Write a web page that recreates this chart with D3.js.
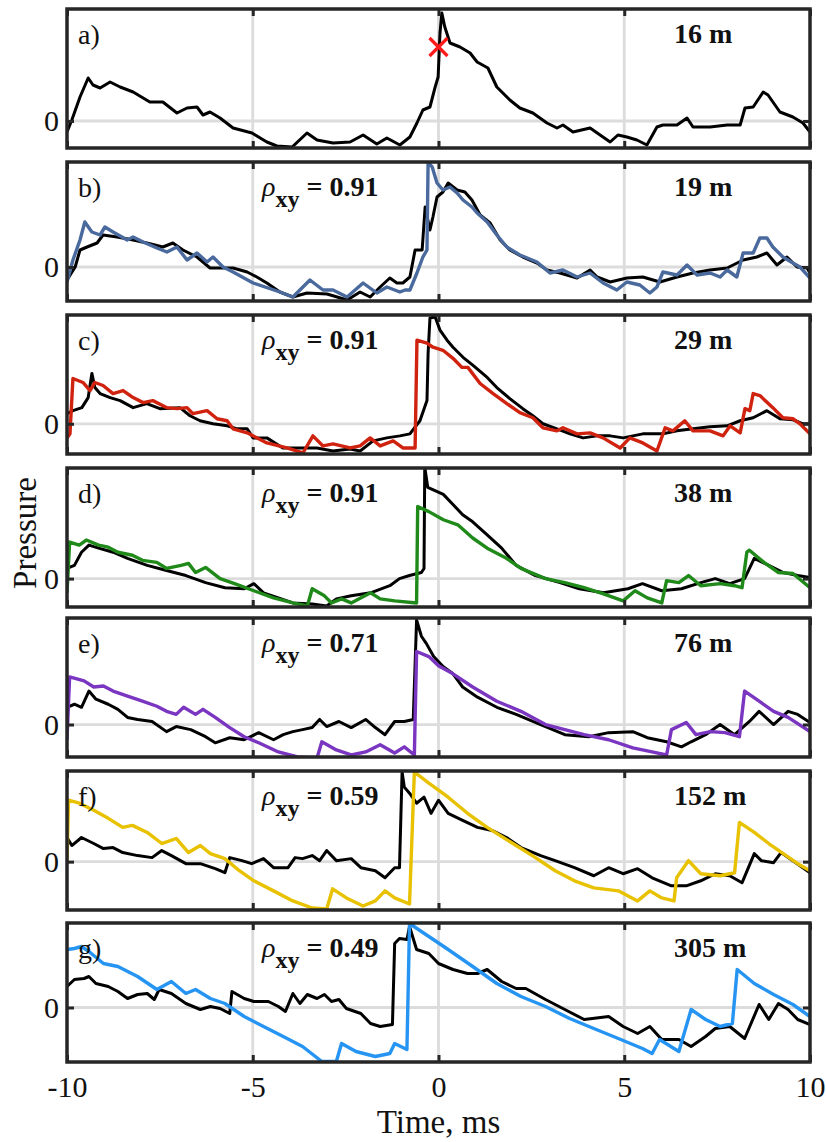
<!DOCTYPE html>
<html>
<head>
<meta charset="utf-8">
<script src="https://cdn.jsdelivr.net/npm/d3@7"></script>
<style>
  body { margin: 0; background: #fff; }
</style>
</head>
<body>
<div id="chart"></div>
<script>
// panel annotations
const panelLabels = ["a)", "b)", "c)", "d)", "e)", "f)", "g)"];
const distances = ["16 m", "19 m", "29 m", "38 m", "76 m", "152 m", "305 m"];
const rhos = [null, "0.91", "0.91", "0.91", "0.71", "0.59", "0.49"];
const colors = ["#000", "#4a6a9e", "#d0230f", "#1f8a1a", "#7a36c0", "#e8c100", "#2594f2"];
const yDomains = [[-0.27, 1.12], [-0.34, 1.05], [-0.30, 1.08], [-0.28, 1.09], [-0.32, 1.05], [-0.48, 0.90], [-0.545, 0.845]];
const xTicks = [-10, -5, 0, 5, 10];
const peakMarker = [0, 0.74];

// measured waveform (black) for every panel, time in ms, pressure normalized
const measuredA = [[-10,-0.11],[-9.87,0.01],[-9.65,0.24],[-9.43,0.43],[-9.30,0.36],[-9.11,0.33],[-8.84,0.39],[-8.57,0.34],[-8.22,0.29],[-7.77,0.19],[-7.42,0.19],[-7.04,0.08],[-6.77,0.13],[-6.50,0.14],[-6.34,0.06],[-6.15,0.09],[-5.88,0.03],[-5.53,-0.07],[-5.02,-0.12],[-4.62,-0.21],[-4.35,-0.25],[-3.94,-0.26],[-3.54,-0.12],[-3.27,-0.19],[-2.84,-0.22],[-2.38,-0.21],[-2.03,-0.14],[-1.66,-0.23],[-1.39,-0.17],[-1.04,-0.24],[-0.77,-0.16],[-0.58,-0.02],[-0.42,0.11],[-0.23,0.14],[-0.09,0.34],[-0.01,0.44],[0.04,0.88],[0.09,1.08],[0.17,0.94],[0.31,0.78],[0.58,0.74],[0.85,0.68],[1.04,0.59],[1.33,0.53],[1.57,0.34],[1.92,0.21],[2.19,0.13],[2.54,0.08],[2.92,-0.02],[3.19,-0.07],[3.35,-0.04],[3.62,-0.11],[4.08,-0.07],[4.62,-0.21],[4.83,-0.14],[5.07,-0.16],[5.34,-0.19],[5.61,-0.24],[5.88,-0.06],[6.04,-0.04],[6.42,-0.04],[6.69,0.03],[6.85,-0.06],[7.31,-0.06],[7.77,-0.04],[8.12,-0.04],[8.25,0.13],[8.47,0.14],[8.74,0.29],[8.87,0.26],[9.19,0.09],[9.54,0.04],[9.81,-0.02],[10,-0.11]];
const measuredB = [[-10,-0.13],[-9.78,0.00],[-9.65,0.17],[-9.46,0.20],[-9.19,0.24],[-9.03,0.32],[-8.65,0.30],[-8.22,0.27],[-7.85,0.24],[-7.42,0.20],[-7.15,0.24],[-6.88,0.17],[-6.50,0.10],[-6.15,-0.01],[-5.53,-0.01],[-5.15,-0.05],[-4.89,-0.10],[-4.62,-0.16],[-4.27,-0.25],[-3.92,-0.30],[-3.54,-0.26],[-3.00,-0.27],[-2.46,-0.33],[-2.11,-0.25],[-1.84,-0.30],[-1.57,-0.20],[-1.31,-0.11],[-1.12,-0.16],[-0.96,-0.16],[-0.77,-0.10],[-0.63,0.17],[-0.44,0.17],[-0.36,0.60],[-0.23,0.37],[-0.15,0.50],[-0.04,0.70],[0.12,0.75],[0.26,0.84],[0.50,0.77],[0.71,0.75],[0.90,0.67],[1.12,0.52],[1.39,0.44],[1.66,0.27],[1.92,0.17],[2.27,0.10],[2.65,0.04],[2.92,-0.03],[3.27,-0.06],[3.73,-0.11],[4.08,-0.03],[4.27,-0.10],[4.62,-0.15],[5.07,-0.11],[5.50,-0.10],[5.96,-0.15],[6.42,-0.10],[6.85,-0.06],[7.31,-0.03],[7.77,-0.01],[8.20,0.07],[8.57,0.10],[8.84,0.14],[9.11,0.02],[9.38,0.10],[9.65,0.00],[9.92,-0.01],[10,-0.06]];
const measuredC = [[-10,0.10],[-9.84,0.13],[-9.60,0.16],[-9.43,0.26],[-9.33,0.50],[-9.25,0.36],[-9.11,0.30],[-8.84,0.26],[-8.57,0.23],[-8.22,0.16],[-7.85,0.20],[-7.50,0.15],[-6.96,0.16],[-6.69,0.08],[-6.42,0.03],[-6.07,0.00],[-5.69,-0.02],[-5.42,-0.05],[-5.15,-0.05],[-4.99,-0.14],[-4.62,-0.14],[-4.19,-0.24],[-3.73,-0.24],[-3.27,-0.24],[-2.84,-0.27],[-2.38,-0.25],[-2.11,-0.27],[-1.76,-0.17],[-1.39,-0.14],[-1.04,-0.12],[-0.77,-0.10],[-0.50,0.03],[-0.31,0.23],[-0.28,0.70],[-0.23,1.05],[-0.09,1.06],[0.04,0.93],[0.23,0.83],[0.39,0.76],[0.66,0.66],[0.93,0.58],[1.31,0.46],[1.57,0.36],[1.92,0.25],[2.27,0.15],[2.54,0.08],[2.81,0.00],[3.19,-0.05],[3.54,-0.10],[3.89,-0.14],[4.27,-0.12],[4.62,-0.12],[4.97,-0.14],[5.50,-0.10],[6.04,-0.10],[6.42,-0.07],[6.85,-0.05],[7.31,-0.03],[7.77,-0.02],[8.12,0.03],[8.47,0.06],[8.84,0.13],[9.19,0.05],[9.54,0.04],[9.81,0.00],[10,0.00]];
const measuredD = [[-10,0.10],[-9.80,0.13],[-9.61,0.26],[-9.41,0.33],[-9.15,0.30],[-8.76,0.26],[-8.37,0.20],[-7.84,0.13],[-7.32,0.08],[-6.80,0.03],[-6.27,-0.04],[-5.75,-0.09],[-5.23,-0.10],[-4.97,-0.05],[-4.71,-0.14],[-4.31,-0.19],[-3.92,-0.24],[-3.40,-0.25],[-3.01,-0.27],[-2.75,-0.20],[-2.35,-0.17],[-1.83,-0.14],[-1.31,-0.07],[-1.05,0.00],[-0.78,0.03],[-0.46,0.06],[-0.39,0.10],[-0.37,1.10],[-0.29,0.90],[0.13,0.83],[0.39,0.73],[0.65,0.63],[0.92,0.56],[1.31,0.43],[1.70,0.30],[2.09,0.13],[2.61,0.03],[3.27,-0.04],[3.79,-0.10],[4.44,-0.14],[5.10,-0.10],[5.49,-0.05],[6.01,-0.12],[6.54,-0.10],[7.06,-0.04],[7.45,0.00],[7.84,-0.05],[8.24,0.00],[8.50,0.20],[8.89,0.13],[9.28,0.06],[9.67,0.03],[10,0.01]];
const measuredE = [[-10,0.17],[-9.80,0.20],[-9.61,0.17],[-9.41,0.33],[-9.22,0.25],[-8.89,0.20],[-8.63,0.15],[-8.37,0.07],[-8.10,0.05],[-7.71,0.03],[-7.32,-0.07],[-7.06,-0.02],[-6.67,-0.05],[-6.27,-0.12],[-6.01,-0.18],[-5.62,-0.13],[-5.23,-0.15],[-4.84,-0.08],[-4.44,-0.15],[-4.18,-0.10],[-3.92,-0.07],[-3.66,-0.05],[-3.40,-0.03],[-3.20,0.05],[-3.01,-0.02],[-2.68,0.03],[-2.35,-0.03],[-1.96,0.05],[-1.70,-0.03],[-1.44,-0.10],[-1.18,0.03],[-0.92,0.03],[-0.68,0.05],[-0.59,1.03],[-0.46,0.87],[-0.33,0.80],[-0.13,0.67],[0.13,0.57],[0.39,0.50],[0.65,0.37],[1.05,0.27],[1.57,0.17],[2.09,0.10],[2.75,0.00],[3.40,-0.10],[4.05,-0.12],[4.58,-0.08],[5.23,-0.07],[5.62,-0.13],[6.14,-0.17],[6.54,-0.22],[6.80,-0.17],[7.19,-0.10],[7.58,0.00],[7.97,-0.10],[8.37,0.03],[8.63,0.13],[9.02,0.00],[9.41,0.13],[9.67,0.10],[10,0.02]];
const measuredF = [[-10,0.24],[-9.87,0.16],[-9.61,0.24],[-9.28,0.18],[-9.02,0.13],[-8.76,0.14],[-8.50,0.09],[-8.10,0.06],[-7.71,0.04],[-7.45,0.11],[-7.19,0.06],[-6.80,-0.02],[-6.41,-0.02],[-6.01,-0.07],[-5.75,-0.11],[-5.62,0.04],[-5.29,0.01],[-5.03,-0.02],[-4.71,0.03],[-4.44,-0.06],[-4.05,-0.06],[-3.86,0.04],[-3.66,0.03],[-3.40,0.06],[-3.20,0.01],[-3.01,0.11],[-2.75,0.01],[-2.35,0.03],[-2.09,-0.06],[-1.70,-0.09],[-1.44,-0.16],[-1.18,-0.06],[-1.05,-0.06],[-0.98,0.89],[-0.92,0.74],[-0.78,0.68],[-0.59,0.58],[-0.39,0.64],[-0.20,0.48],[0.00,0.61],[0.26,0.48],[0.65,0.41],[1.05,0.34],[1.44,0.31],[1.83,0.24],[2.22,0.14],[2.75,0.06],[3.14,0.01],[3.66,-0.06],[4.18,-0.14],[4.58,-0.06],[4.97,-0.12],[5.36,-0.07],[5.75,-0.16],[6.27,-0.24],[6.67,-0.24],[7.06,-0.19],[7.45,-0.12],[7.84,-0.14],[8.17,-0.21],[8.50,0.08],[8.69,0.01],[9.02,-0.01],[9.22,0.09],[9.54,0.01],[10,-0.11]];
const measuredG = [[-10,0.21],[-9.80,0.28],[-9.54,0.29],[-9.41,0.31],[-9.22,0.24],[-8.89,0.21],[-8.63,0.16],[-8.37,0.09],[-8.10,0.13],[-7.84,0.14],[-7.65,0.08],[-7.52,0.18],[-7.19,0.14],[-6.80,0.04],[-6.41,-0.02],[-6.14,0.01],[-5.88,-0.01],[-5.62,-0.06],[-5.56,0.16],[-5.23,0.09],[-4.97,0.06],[-4.58,0.06],[-4.31,0.01],[-4.12,-0.04],[-3.92,0.14],[-3.73,0.04],[-3.53,0.13],[-3.27,0.09],[-3.07,0.13],[-2.88,0.06],[-2.68,0.08],[-2.48,-0.01],[-2.09,-0.06],[-1.83,-0.16],[-1.57,-0.19],[-1.24,-0.17],[-1.18,0.64],[-1.05,0.69],[-0.85,0.68],[-0.78,0.81],[-0.59,0.58],[-0.26,0.54],[0.00,0.44],[0.39,0.38],[0.78,0.34],[1.05,0.34],[1.31,0.38],[1.70,0.26],[2.09,0.19],[2.35,0.19],[2.88,0.08],[3.40,-0.02],[3.92,-0.12],[4.58,-0.09],[4.97,-0.19],[5.36,-0.26],[5.69,-0.19],[6.01,-0.32],[6.47,-0.32],[6.80,-0.39],[7.19,-0.29],[7.45,-0.21],[7.84,-0.19],[8.24,-0.31],[8.63,0.03],[8.89,-0.12],[9.15,0.04],[9.41,-0.02],[9.67,-0.12],[10,-0.17]];

// modelled waveform (coloured) at each distance
const modelB = [[-10,-0.15],[-9.84,0.07],[-9.65,0.27],[-9.52,0.45],[-9.33,0.35],[-9.11,0.32],[-8.98,0.40],[-8.76,0.35],[-8.38,0.27],[-8.22,0.30],[-7.95,0.25],[-7.58,0.19],[-7.31,0.15],[-7.04,0.20],[-6.77,0.07],[-6.50,0.14],[-6.23,0.05],[-6.07,0.10],[-5.80,0.00],[-5.53,-0.05],[-4.99,-0.16],[-4.27,-0.25],[-3.92,-0.30],[-3.46,-0.13],[-3.11,-0.23],[-2.84,-0.23],[-2.46,-0.30],[-2.03,-0.16],[-1.66,-0.26],[-1.39,-0.20],[-1.04,-0.25],[-0.90,-0.23],[-0.77,-0.23],[-0.58,-0.06],[-0.42,0.10],[-0.31,0.17],[-0.28,1.05],[-0.17,1.00],[-0.04,0.84],[0.12,0.77],[0.31,0.80],[0.50,0.74],[0.66,0.67],[0.90,0.60],[1.04,0.54],[1.31,0.45],[1.57,0.32],[1.84,0.20],[2.19,0.12],[2.65,0.05],[3.00,-0.06],[3.35,-0.03],[3.73,-0.10],[4.08,-0.06],[4.43,-0.16],[4.80,-0.23],[5.07,-0.15],[5.42,-0.18],[5.69,-0.26],[5.88,-0.20],[6.04,-0.05],[6.42,-0.08],[6.69,0.02],[6.96,-0.08],[7.31,-0.06],[7.58,-0.10],[7.77,-0.03],[8.03,-0.10],[8.20,0.14],[8.47,0.14],[8.65,0.29],[8.84,0.29],[9.00,0.20],[9.27,0.10],[9.54,0.04],[9.73,0.00],[10,-0.11]];
const modelC = [[-10,-0.14],[-9.92,-0.10],[-9.84,0.45],[-9.57,0.41],[-9.38,0.33],[-9.25,0.41],[-9.03,0.38],[-8.76,0.30],[-8.49,0.33],[-8.22,0.26],[-7.95,0.21],[-7.69,0.23],[-7.31,0.16],[-7.04,0.15],[-6.77,0.16],[-6.61,0.10],[-6.23,0.13],[-5.96,0.05],[-5.69,0.03],[-5.53,-0.05],[-5.15,-0.09],[-4.62,-0.19],[-4.08,-0.24],[-3.65,-0.29],[-3.38,-0.12],[-3.11,-0.22],[-2.84,-0.20],[-2.38,-0.24],[-2.11,-0.22],[-1.84,-0.14],[-1.57,-0.22],[-1.22,-0.17],[-0.96,-0.24],[-0.63,-0.24],[-0.58,0.83],[-0.31,0.80],[-0.15,0.76],[0.12,0.73],[0.39,0.65],[0.63,0.56],[0.79,0.56],[1.12,0.40],[1.47,0.30],[1.84,0.20],[2.19,0.11],[2.54,0.06],[2.81,-0.04],[3.19,-0.07],[3.35,-0.04],[3.73,-0.10],[4.08,-0.09],[4.43,-0.14],[4.89,-0.24],[5.15,-0.14],[5.50,-0.19],[5.88,-0.27],[6.10,-0.04],[6.31,-0.07],[6.63,0.03],[6.85,-0.07],[7.31,-0.07],[7.66,-0.12],[7.85,-0.02],[8.12,-0.09],[8.25,0.15],[8.38,0.13],[8.47,0.30],[8.65,0.28],[9.00,0.16],[9.27,0.06],[9.54,0.05],[9.73,0.00],[10,-0.10]];
const modelD = [[-10,-0.14],[-9.93,0.36],[-9.67,0.33],[-9.48,0.38],[-9.15,0.33],[-8.89,0.31],[-8.63,0.26],[-8.24,0.23],[-7.97,0.18],[-7.58,0.16],[-7.32,0.10],[-6.93,0.13],[-6.73,0.15],[-6.54,0.06],[-6.27,0.11],[-5.88,0.00],[-5.49,-0.05],[-4.97,-0.12],[-4.44,-0.19],[-3.92,-0.24],[-3.53,-0.27],[-3.40,-0.10],[-3.07,-0.17],[-2.88,-0.24],[-2.61,-0.20],[-2.35,-0.24],[-1.83,-0.14],[-1.57,-0.20],[-1.18,-0.22],[-0.59,-0.24],[-0.56,0.71],[-0.26,0.66],[0.13,0.58],[0.52,0.53],[0.92,0.40],[1.31,0.30],[1.83,0.20],[2.22,0.10],[2.88,0.00],[3.40,-0.04],[3.92,-0.09],[4.44,-0.15],[4.97,-0.22],[5.29,-0.12],[5.62,-0.19],[6.01,-0.24],[6.14,-0.02],[6.47,-0.04],[6.73,0.03],[7.06,-0.07],[7.58,-0.05],[7.97,-0.07],[8.17,-0.09],[8.30,0.26],[8.37,0.28],[8.76,0.16],[9.15,0.06],[9.54,0.05],[10,-0.09]];
const modelE = [[-10,-0.15],[-9.93,0.47],[-9.54,0.43],[-9.28,0.37],[-9.02,0.38],[-8.76,0.33],[-8.37,0.28],[-7.97,0.23],[-7.58,0.18],[-7.32,0.13],[-7.06,0.10],[-6.86,0.17],[-6.54,0.10],[-6.34,0.15],[-6.01,0.07],[-5.62,-0.03],[-5.23,-0.12],[-4.84,-0.18],[-4.31,-0.27],[-3.79,-0.32],[-3.27,-0.33],[-3.14,-0.17],[-2.75,-0.25],[-2.35,-0.30],[-1.96,-0.27],[-1.57,-0.20],[-1.18,-0.28],[-0.92,-0.22],[-0.65,-0.30],[-0.59,0.72],[-0.26,0.67],[0.00,0.58],[0.39,0.50],[0.92,0.37],[1.57,0.23],[2.22,0.13],[2.88,0.00],[3.40,-0.05],[3.92,-0.10],[4.58,-0.15],[5.23,-0.23],[5.75,-0.27],[6.14,-0.30],[6.27,-0.05],[6.67,0.02],[6.93,-0.10],[7.32,-0.07],[7.71,-0.08],[8.10,-0.12],[8.24,0.33],[8.63,0.23],[9.02,0.13],[9.41,0.07],[10,-0.07]];
const modelF = [[-10,-0.02],[-9.96,0.61],[-9.67,0.58],[-9.28,0.51],[-8.89,0.43],[-8.50,0.34],[-8.24,0.36],[-7.84,0.29],[-7.45,0.18],[-7.06,0.23],[-6.73,0.09],[-6.41,0.16],[-6.14,0.08],[-5.75,0.03],[-5.36,-0.09],[-4.97,-0.19],[-4.44,-0.29],[-3.92,-0.39],[-3.40,-0.46],[-3.01,-0.47],[-2.85,-0.27],[-2.48,-0.36],[-2.03,-0.44],[-1.70,-0.39],[-1.44,-0.29],[-1.18,-0.36],[-0.78,-0.42],[-0.65,0.89],[-0.26,0.78],[0.26,0.64],[0.78,0.48],[1.31,0.34],[1.96,0.19],[2.61,0.04],[3.14,-0.09],[3.66,-0.19],[4.18,-0.26],[4.84,-0.29],[5.36,-0.39],[5.69,-0.29],[6.01,-0.36],[6.34,-0.39],[6.41,-0.16],[6.73,0.01],[7.06,-0.12],[7.58,-0.14],[7.97,-0.11],[8.10,0.39],[8.50,0.29],[8.89,0.18],[9.28,0.08],[9.67,-0.02],[10,-0.09]];
const modelG = [[-10,0.58],[-9.80,0.59],[-9.61,0.61],[-9.41,0.56],[-9.02,0.44],[-8.63,0.41],[-8.10,0.31],[-7.58,0.18],[-7.19,0.26],[-6.80,0.14],[-6.54,0.18],[-6.14,0.09],[-5.75,0.04],[-5.23,-0.09],[-4.71,-0.19],[-4.18,-0.29],[-3.66,-0.39],[-3.14,-0.54],[-2.75,-0.54],[-2.61,-0.36],[-2.22,-0.44],[-1.70,-0.49],[-1.31,-0.46],[-1.18,-0.36],[-0.85,-0.42],[-0.78,0.84],[-0.26,0.71],[0.26,0.58],[0.92,0.41],[1.57,0.24],[2.22,0.11],[2.88,0.01],[3.53,-0.11],[4.18,-0.21],[4.84,-0.31],[5.49,-0.41],[5.75,-0.46],[5.95,-0.32],[6.47,-0.44],[6.80,-0.02],[7.19,-0.12],[7.58,-0.19],[7.91,-0.16],[8.04,0.38],[8.50,0.24],[9.02,0.13],[9.54,0.03],[10,-0.09]];

const measured = [measuredA, measuredB, measuredC, measuredD, measuredE, measuredF, measuredG];
const models = [null, modelB, modelC, modelD, modelE, modelF, modelG];

const width = 826, height = 1142;
const left = 67, right = 810;
const panelTops = [9, 162, 315, 468, 618, 771, 923];
const panelH = 139;
const frameColor = "#262626";
const serif = "Liberation Serif";

const svg = d3.select("#chart").append("svg")
  .attr("width", width)
  .attr("height", height)
  .attr("font-family", serif);

const x = d3.scaleLinear().domain([-10, 10]).range([left, right]);

panelLabels.forEach((lab, i) => {
  const top = panelTops[i];
  const y = d3.scaleLinear().domain(yDomains[i]).range([top + panelH, top]);
  const g = svg.append("g");

  g.append("clipPath").attr("id", "clip" + i)
    .append("rect")
    .attr("x", left).attr("y", top)
    .attr("width", right - left).attr("height", panelH);

  // grid
  g.selectAll(".vgrid")
    .data([-5, 0, 5])
    .enter().append("line")
    .attr("x1", d => x(d)).attr("x2", d => x(d))
    .attr("y1", top).attr("y2", top + panelH)
    .attr("stroke", "#dcdcdc").attr("stroke-width", 2.8);
  g.append("line")
    .attr("x1", left).attr("x2", right)
    .attr("y1", y(0)).attr("y2", y(0))
    .attr("stroke", "#dcdcdc").attr("stroke-width", 2.8);

  const line = d3.line().x(d => x(d[0])).y(d => y(d[1]));
  const plot = g.append("g").attr("clip-path", `url(#clip${i})`);

  plot.append("path")
    .datum(measured[i])
    .attr("d", line)
    .attr("fill", "none")
    .attr("stroke", "#000")
    .attr("stroke-width", 3)
    .attr("stroke-linejoin", "round");

  if (models[i]) {
    plot.append("path")
      .datum(models[i])
      .attr("d", line)
      .attr("fill", "none")
      .attr("stroke", colors[i])
      .attr("stroke-width", 3.4)
      .attr("stroke-linejoin", "round");
  }

  // inner ticks, top and bottom
  const bottomAxis = g.append("g")
    .attr("transform", `translate(0,${top + panelH})`)
    .call(d3.axisBottom(x).tickValues(xTicks).tickSizeInner(-7).tickSizeOuter(0).tickPadding(14)
      .tickFormat(i === panelLabels.length - 1 ? d => String(d) : ""));
  const topAxis = g.append("g")
    .attr("transform", `translate(0,${top})`)
    .call(d3.axisTop(x).tickValues(xTicks).tickSizeInner(-7).tickSizeOuter(0).tickFormat(""));
  const leftAxis = g.append("g")
    .attr("transform", `translate(${left},0)`)
    .call(d3.axisLeft(y).tickValues([0]).tickSizeInner(-7).tickSizeOuter(0).tickPadding(8)
      .tickFormat(d => String(d)));
  const rightAxis = g.append("g")
    .attr("transform", `translate(${right},0)`)
    .call(d3.axisRight(y).tickValues([0]).tickSizeInner(-7).tickSizeOuter(0).tickFormat(""));

  [bottomAxis, topAxis, leftAxis, rightAxis].forEach(a => {
    a.attr("font-family", serif).attr("font-size", 30);
    a.select(".domain").remove();
    a.selectAll(".tick line").attr("stroke", frameColor).attr("stroke-width", 3);
    a.selectAll("text").attr("fill", "#111");
  });

  g.append("rect")
    .attr("x", left).attr("y", top)
    .attr("width", right - left).attr("height", panelH)
    .attr("fill", "none")
    .attr("stroke", frameColor)
    .attr("stroke-width", 3.5);

  g.append("text")
    .attr("x", 78).attr("y", top + 35)
    .attr("font-family", serif)
    .attr("font-size", 28)
    .attr("fill", "#111")
    .text(lab);

  g.append("text")
    .attr("x", 674).attr("y", top + 34)
    .attr("font-family", serif)
    .attr("font-size", 28)
    .attr("font-weight", "bold")
    .attr("fill", "#111")
    .text(distances[i]);

  if (rhos[i]) {
    const t = g.append("text")
      .attr("x", 262).attr("y", top + 34)
      .attr("font-family", serif)
      .attr("font-size", 28)
      .attr("fill", "#111");
    t.append("tspan").attr("font-style", "italic").text("ρ");
    t.append("tspan").attr("font-weight", "bold").attr("font-size", 24).attr("dy", 11).text("xy");
    t.append("tspan").attr("font-weight", "bold").attr("dy", -11).text(" = " + rhos[i]);
  }

  if (i === 0) {
    const px = x(peakMarker[0]), py = y(peakMarker[1]), s = 9;
    g.append("path")
      .attr("d", `M${px - s},${py - s}L${px + s},${py + s}M${px - s},${py + s}L${px + s},${py - s}`)
      .attr("stroke", "#ff1a1a")
      .attr("stroke-width", 3.2);
  }
});

svg.append("text")
  .attr("x", (left + right) / 2)
  .attr("y", 1133)
  .attr("text-anchor", "middle")
  .attr("font-family", serif)
  .attr("font-size", 33)
  .attr("fill", "#111")
  .text("Time, ms");

svg.append("text")
  .attr("transform", "rotate(-90)")
  .attr("x", -533)
  .attr("y", 36)
  .attr("text-anchor", "middle")
  .attr("font-family", serif)
  .attr("font-size", 33)
  .attr("fill", "#111")
  .text("Pressure");
</script>
</body>
</html>
